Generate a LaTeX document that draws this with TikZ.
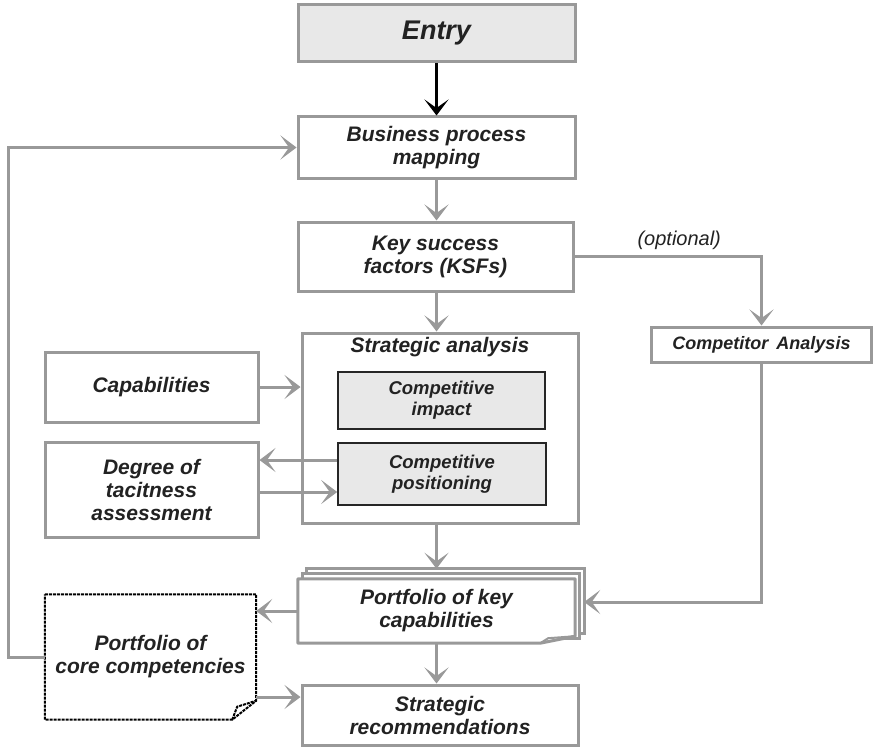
\documentclass[tikz,border=0pt]{standalone}
\usepackage{fontspec}
\setmainfont{Liberation Sans}
\usetikzlibrary{arrows.meta,calc,backgrounds}
\definecolor{linegray}{HTML}{999999}
\definecolor{boxfill}{HTML}{E8E8E8}
\definecolor{ink}{HTML}{222222}

\begin{document}
\begin{tikzpicture}[x=1pt,y=-1pt,
  every node/.style={text=ink, align=center, inner sep=0pt,
    font=\bfseries\itshape\fontsize{21}{23}\selectfont},
  gbox/.style={rectangle, draw=linegray, line width=3pt, fill=white},
  ibox/.style={rectangle, draw=black!85, line width=1.6pt, fill=boxfill,
    font=\bfseries\itshape\fontsize{18.5}{21}\selectfont},
  gline/.style={draw=linegray, line width=3pt},
  tipshape/.style={-{Stealth[length=16pt,width=24pt,inset=8.5pt]}},
  garrow/.style={gline, tipshape},
  karrow/.style={draw=black, line width=3pt, tipshape},
  dotline/.style={draw=black, line width=2pt, dash pattern=on 3pt off 1pt},
]
\useasboundingbox (0,0) rectangle (874,746);

% main column
\node[gbox, fill=boxfill, minimum width=277pt, minimum height=57pt,
      font=\bfseries\itshape\fontsize{27}{30}\selectfont] (entry) at (436.5,33.5) {Entry};
\node[gbox, minimum width=277pt, minimum height=61pt] (bpm) at (436.5,147.5) {Business process\\mapping};
\node[gbox, minimum width=275pt, minimum height=69pt] (ksf) at (435.5,256.5) {Key success\\factors (KSFs)};
\node[gbox, minimum width=276pt, minimum height=190pt] (sa) at (440,428) {};
\node (satitle) at (440,347) {Strategic analysis};
\node[ibox, minimum width=207pt, minimum height=57pt] (ci) at (441.5,400.5) {Competitive\\impact};
\node[ibox, minimum width=208pt, minimum height=62pt] (cp) at (442,474) {Competitive\\positioning};
\node (pkc) [minimum width=277pt, minimum height=64pt] at (436.5,611) {Portfolio of key\\capabilities};
\node[gbox, minimum width=276pt, minimum height=60pt] (sr) at (440,715) {Strategic\\recommendations};

% side column
\node[gbox, minimum width=213pt, minimum height=70pt] (cap) at (151.5,387) {Capabilities};
\node[gbox, minimum width=213pt, minimum height=95pt] (deg) at (151.5,489.5) {Degree of\\tacitness\\assessment};
\node (pcc) [minimum width=211pt, minimum height=125pt] at (150.5,657) {Portfolio of\\core competencies};
\node[gbox, minimum width=220pt, minimum height=35pt,
      font=\bfseries\itshape\fontsize{18}{20}\selectfont] (comp) at (761.5,344.5) {Competitor\, Analysis};

% stacked document and dotted note outlines
\begin{pgfonlayer}{background}
  \draw[gline, fill=white] ($(pkc.north west)+(9,-10)$) rectangle ($(pkc.south east)+(9,-10)$);
  \draw[gline, fill=white] ($(pkc.north west)+(4.5,-5)$) rectangle ($(pkc.south east)+(4.5,-5)$);
  \draw[gline, fill=white, line join=round]
    (pkc.north west) -- (pkc.north east) -- ($(pkc.south east)+(0,-7)$)
    -- ($(pkc.south east)+(-35,0)$) -- (pkc.south west) -- cycle;
  \draw[gline, line width=2pt]
    ($(pkc.south east)+(-35,0)$) -- ($(pkc.south east)+(-27,-5)$) -- ($(pkc.south east)+(0,-7)$);
  \draw[dotline, fill=white]
    (pcc.north west) -- (pcc.north east) -- ($(pcc.south east)+(0,-19)$)
    -- ($(pcc.south east)+(-24,0)$) -- (pcc.south west) -- cycle;
  \draw[dotline]
    ($(pcc.south east)+(-24,0)$) -- ($(pcc.south east)+(-19,-13)$) -- ($(pcc.south east)+(0,-19)$);
\end{pgfonlayer}

% helper points
\coordinate (pktop) at ($(pkc.north)+(0,-10)$);
\coordinate (pkin) at ($(pkc.east)+(9,-9)$);
\coordinate (fb) at (8,147.5);
\coordinate (cpout) at ($(cp.west)+(0,-14)$);
\coordinate (degout) at ($(deg.east)+(0,2.5)$);
\coordinate (pccout) at ($(pcc.east)+(0,40)$);

% connectors
\draw[karrow] (entry.south -| bpm.north) -- (bpm.north);
\draw[garrow] (bpm.south) -- (bpm.south |- ksf.north);
\draw[garrow] (ksf.south -| bpm.south) -- (bpm.south |- sa.north);
\draw[garrow] (ksf.east) -| node[pos=0.28, above=5pt,
    font=\itshape\fontsize{20}{22}\selectfont] {(optional)} (comp.north);
\draw[garrow] (comp.south) |- (pkin);
\draw[garrow] (cap.east) -- (cap.east -| sa.west);
\draw[garrow] (cpout) -- (cpout -| deg.east);
\draw[garrow] (degout) -- (degout -| cp.west);
\draw[garrow] (sa.south -| pktop) -- (pktop);
\draw[garrow] (pkc.west) -- (pkc.west -| pcc.east);
\draw[garrow] (pkc.south) -- (pkc.south |- sr.north);
\draw[garrow] (pccout) -- (pccout -| sr.west);
\draw[garrow] (pcc.west) -| (fb) -- (bpm.west);
\end{tikzpicture}
\end{document}
